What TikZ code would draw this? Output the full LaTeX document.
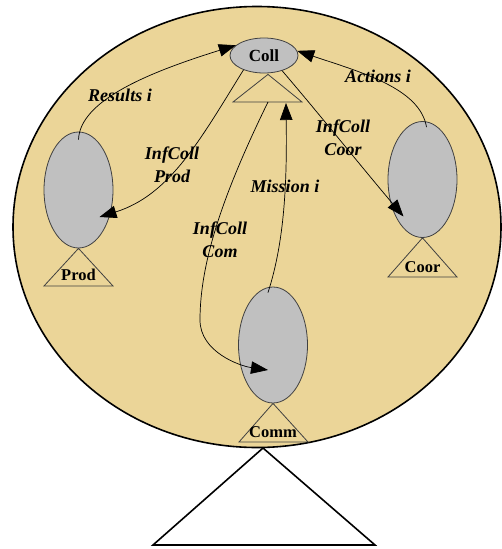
\documentclass[tikz,border=0pt]{standalone}
\usepackage{fontspec}
\setmainfont{Liberation Serif}
\usetikzlibrary{shapes.geometric,arrows.meta,calc}
\definecolor{envfill}{RGB}{235,213,152}
\definecolor{agentgray}{RGB}{192,192,192}
\begin{document}
\begin{tikzpicture}[x=1pt,y=-1pt,
  envbox/.style={ellipse,draw=black,line width=1.6pt,fill=envfill,inner sep=0pt,minimum width=488pt,minimum height=441pt},
  agent/.style={ellipse,draw=black!75,line width=0.8pt,fill=agentgray,inner sep=0pt,minimum width=69pt,minimum height=116pt},
  collbox/.style={ellipse,draw=black!75,line width=0.8pt,fill=agentgray,inner sep=0pt,minimum width=68pt,minimum height=35pt,font=\fontsize{17}{20}\selectfont\bfseries},
  tri/.style={draw=black!75,line width=0.8pt},
  bigtri/.style={draw=black,line width=1.6pt,fill=white},
  tlabel/.style={font=\fontsize{16.5}{19}\selectfont\bfseries,inner sep=0pt},
  elabel/.style={font=\fontsize{18}{23}\selectfont\bfseries\itshape,align=center,inner sep=0pt},
  conn/.style={draw=black,line width=0.7pt,-{Triangle[length=17pt,width=12.5pt]}}]
\useasboundingbox (0,0) rectangle (502,549);

% environment and stand
\node[envbox] (env) at (257,227) {};
\coordinate (standtop) at (263,448);
\draw[bigtri] (standtop) -- (153,545) -- (375,545) -- cycle;

% agents
\node[collbox] (coll) at (264,55.5) {Coll};
\node[agent] (prod) at (78.5,190) {};
\node[agent] (coor) at (422.5,179.5) {};
\node[agent] (comm) at (273,345) {};

% small triangles
\draw[tri] (coll.south) ++(4,1) -- (233,102) -- (302,102) -- cycle;
\draw[tri] (prod.south) -- (44,286) -- (113,286) -- cycle;
\draw[tri] (coor.south) -- (388,277) -- (457,277) -- cycle;
\draw[tri] (comm.south) -- (239,442) -- (308,442) -- cycle;

\node[tlabel] (prodl) at (78.5,275) {Prod};
\node[tlabel] (coorl) at (422.5,267) {Coor};
\node[tlabel] (comml) at (273,432) {Comm};

\coordinate (ctbl) at (268,102);
\coordinate (ctbr) at (286,103);

% connectors
\draw[conn] ($(prod.north)+(0,8)$) .. controls (80,100) and (150,72) .. (coll.160);
\draw[conn] ($(coor.north)+(4,6)$) .. controls (420,88) and (360,72) .. (coll.8);
\draw[conn] (coll.215) .. controls (200,140) and (170,195) .. ($(prod)+(21,27)$);
\draw[conn] (coll.-40) .. controls (320,115) and (360,165) .. ($(coor)+(-19,37)$);
\draw[conn] (ctbl) .. controls (225,190) and (200,260) .. (200,320) .. controls (200,352) and (240,366) .. ($(comm)+(-5,25)$);
\draw[conn] ($(comm.north)+(-5,6)$) .. controls (285,240) and (287,180) .. (ctbr);

% edge labels
\node[elabel] (lres) at (120,95) {Results i};
\node[elabel] (lact) at (378,76) {Actions i};
\node[elabel] (lprod) at (172,165) {InfColl\\Prod};
\node[elabel] (lcoor) at (343,138) {InfColl\\Coor};
\node[elabel] (lcom) at (220,240) {InfColl\\Com};
\node[elabel] (lmis) at (285,186) {Mission i};
\end{tikzpicture}
\end{document}
